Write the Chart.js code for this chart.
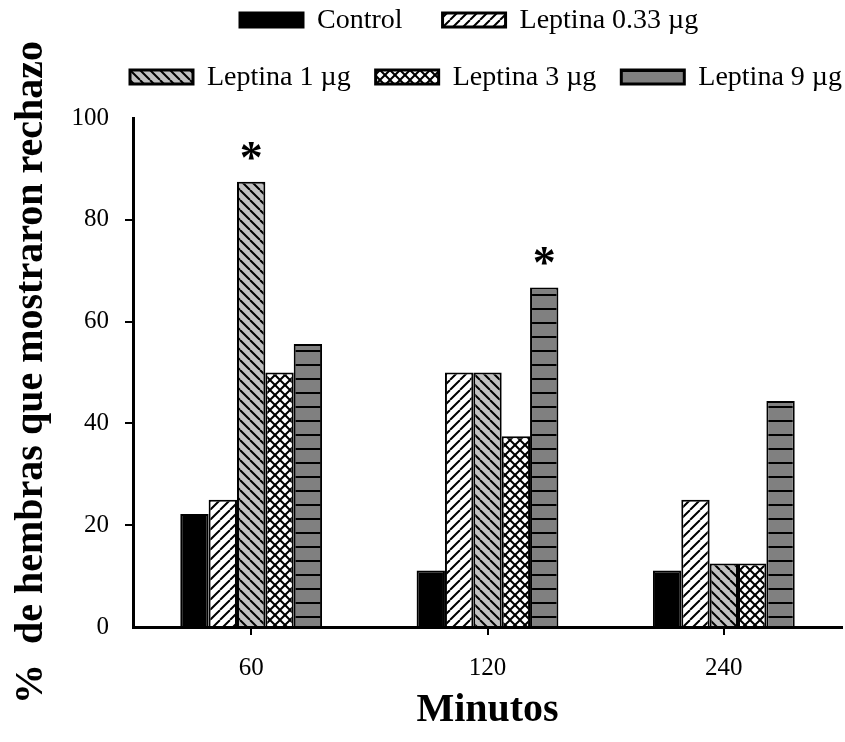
<!DOCTYPE html>
<html>
<head>
<meta charset="utf-8">
<script src="https://cdn.jsdelivr.net/npm/chart.js@4.4.1/dist/chart.umd.min.js"></script>
<style>
  body { margin: 0; background: #fff; }
  #wrap { width: 845px; height: 742px; }
</style>
</head>
<body>
<div id="wrap"><canvas id="chart"></canvas></div>
<script>
// data
const categories = ['60', '120', '240'];
const seriesNames = ['Control', 'Leptina 0.33 µg', 'Leptina 1 µg', 'Leptina 3 µg', 'Leptina 9 µg'];
const control = [22.2, 11.1, 11.1];
const leptina033 = [25, 50, 25];
const leptina1 = [87.5, 50, 12.5];
const leptina3 = [50, 37.5, 12.5];
const leptina9 = [55.6, 66.7, 44.4];
const yTicks = [0, 20, 40, 60, 80, 100];
// significance marks (*): series index and category index
const starSeries = [2, 4];
const starCategory = [0, 1];

const FONT = "'Liberation Serif', 'Times New Roman', serif";

// fill patterns
function makePattern(size, bg, draw) {
  const c = document.createElement('canvas');
  c.width = size; c.height = size;
  const g = c.getContext('2d');
  g.fillStyle = bg;
  g.fillRect(0, 0, size, size);
  g.strokeStyle = '#000';
  draw(g, size);
  return g.createPattern(c, 'repeat');
}

function slash(g, s) {
  g.lineWidth = 2;
  g.beginPath();
  for (let k = -1; k <= 1; k++) {
    g.moveTo(k * s, s);
    g.lineTo(k * s + s, 0);
  }
  g.stroke();
}
function backslash(g, s) {
  g.lineWidth = 2;
  g.beginPath();
  for (let k = -1; k <= 1; k++) {
    g.moveTo(k * s, 0);
    g.lineTo(k * s + s, s);
  }
  g.stroke();
}

const fills = [
  '#000',
  makePattern(10, '#fff', slash),
  makePattern(10, '#c0c0c0', backslash),
  makePattern(10, '#fff', (g, s) => { slash(g, s); backslash(g, s); }),
  makePattern(14, '#808080', (g, s) => {
    g.lineWidth = 2;
    g.beginPath();
    g.moveTo(0, 1); g.lineTo(s, 1);
    g.stroke();
  })
];

const seriesData = [control, leptina033, leptina1, leptina3, leptina9];

const datasets = seriesNames.map((name, i) => ({
  label: name,
  data: seriesData[i],
  backgroundColor: fills[i],
  borderColor: '#000',
  borderWidth: 2,
  categoryPercentage: 0.6,
  barPercentage: 1.0
}));

// legend in two rows, like the original figure
const legendRows = [[0, 1], [2, 3, 4]];
const rowStartX = [240, 130];
const rowY = [20, 77];
const rowGap = [40, 25];
const legendPlugin = {
  id: 'rowLegend',
  afterDraw(chart) {
    const ctx = chart.ctx;
    const boxW = 63, boxH = 14, textGap = 14;
    ctx.save();
    ctx.font = '28px ' + FONT;
    ctx.textBaseline = 'middle';
    ctx.textAlign = 'left';
    legendRows.forEach((row, r) => {
      let x = rowStartX[r];
      const y = rowY[r];
      row.forEach(i => {
        const ds = chart.data.datasets[i];
        ctx.fillStyle = ds.backgroundColor;
        ctx.fillRect(x, y - boxH / 2, boxW, boxH);
        ctx.lineWidth = 3;
        ctx.strokeStyle = '#000';
        ctx.strokeRect(x, y - boxH / 2, boxW, boxH);
        ctx.fillStyle = '#000';
        const tx = x + boxW + textGap;
        ctx.fillText(ds.label, tx, y + 1);
        x = tx + ctx.measureText(ds.label).width + rowGap[r];
      });
    });
    ctx.restore();
  }
};

// asterisks above significant bars
const starPlugin = {
  id: 'stars',
  afterDatasetsDraw(chart) {
    const ctx = chart.ctx;
    ctx.save();
    ctx.font = 'bold 46px ' + FONT;
    ctx.textAlign = 'center';
    ctx.textBaseline = 'alphabetic';
    ctx.fillStyle = '#000';
    starSeries.forEach((s, j) => {
      const bar = chart.getDatasetMeta(s).data[starCategory[j]];
      ctx.fillText('*', bar.x, bar.y - 9);
    });
    ctx.restore();
  }
};

const ctx = document.getElementById('chart').getContext('2d');
const myChart = new Chart(ctx, {
  type: 'bar',
  data: { labels: categories, datasets: datasets },
  plugins: [legendPlugin, starPlugin],
  options: {
    responsive: true,
    maintainAspectRatio: false,
    animation: false,
    devicePixelRatio: 1,
    layout: { padding: { top: 118, right: 3, left: 0, bottom: 0 } },
    plugins: {
      legend: { display: false },
      tooltip: { enabled: false }
    },
    scales: {
      x: {
        afterFit(scale) { scale.height = 115; },
        grid: {
          display: true,
          drawOnChartArea: false,
          drawTicks: true,
          tickLength: 8,
          offset: false,
          color: '#000',
          lineWidth: 2
        },
        border: { display: true, color: '#000', width: 3 },
        ticks: {
          color: '#000',
          font: { family: FONT, size: 25 },
          padding: 18
        },
        title: {
          display: true,
          text: 'Minutos',
          color: '#000',
          font: { family: FONT, size: 40, weight: 'bold' },
          padding: { top: 0, bottom: 7 }
        }
      },
      y: {
        min: 0,
        max: 100,
        afterFit(scale) { scale.width = 133; },
        afterBuildTicks(scale) { scale.ticks = yTicks.map(v => ({ value: v })); },
        grid: {
          display: true,
          drawOnChartArea: false,
          drawTicks: true,
          tickLength: 8,
          color: c => (c.tick && (c.tick.value === 0 || c.tick.value === 100)) ? 'rgba(0,0,0,0)' : '#000',
          lineWidth: 2
        },
        border: { display: true, color: '#000', width: 3 },
        ticks: {
          color: '#000',
          font: { family: FONT, size: 25 },
          padding: 16
        },
        title: {
          display: true,
          text: '%  de hembras que mostraron rechazo',
          color: '#000',
          font: { family: FONT, size: 40, weight: 'bold' },
          padding: { top: 8, bottom: 0 }
        }
      }
    }
  }
});
</script>
</body>
</html>
